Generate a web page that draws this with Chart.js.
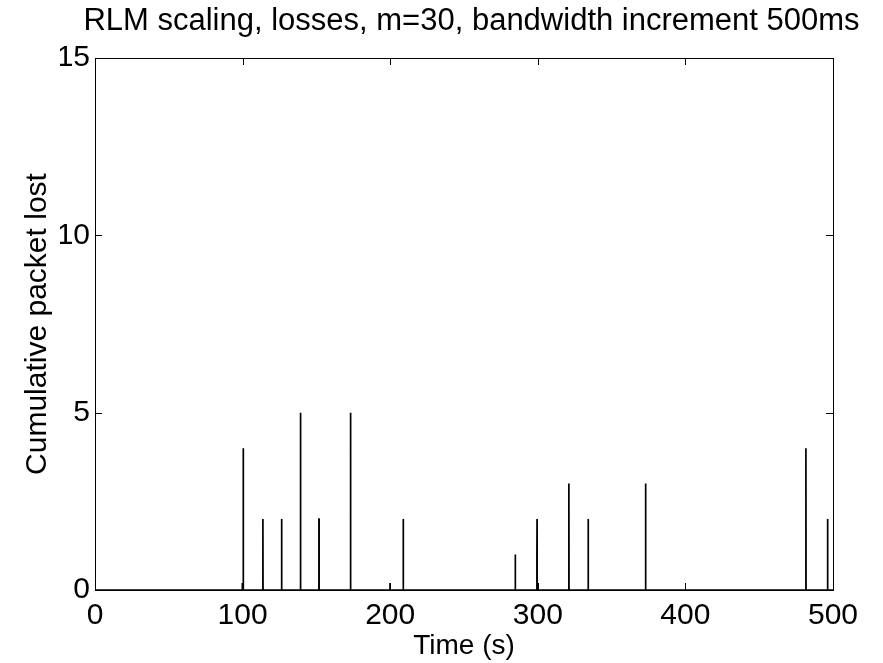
<!DOCTYPE html>
<html>
<head>
<meta charset="utf-8">
<script src="https://cdn.jsdelivr.net/npm/chart.js@4.4.0/dist/chart.umd.min.js"></script>
<style>
    html, body { margin: 0; padding: 0; background: #fff; }
</style>
</head>
<body>
<canvas id="chartLoss" width="883" height="663"></canvas>
<script>
// ================================
//  data
// ================================
const xTicks = [0, 100, 200, 300, 400, 500];
const yTicks = [0, 5, 10, 15];

// loss bursts: time (s), top of the burst, intermediate count on the way up
const burstTime = [100.5, 113.8, 126.5, 139.3, 151.8, 173.2, 208.9, 284.8, 299.5, 321.1, 334.2, 373.1, 481.7, 496.4];
const burstPeak = [4, 2, 2, 5, 2, 5, 2, 1, 2, 3, 2, 3, 4, 2];
const burstStep = [2, 1, 1, 1, 2, 2, 1, 1, 1, 3, 2, 1, 1, 1];

// tiny blips just before some bursts
const blipTime = [99.8, 199.9];
const blipValue = [0.2, 0.2];

// build the polyline (time order)
const events = [];
burstTime.forEach((t, i) => {
    events.push([t - 0.15, 0], [t - 0.1, burstStep[i]], [t, burstPeak[i]], [t + 0.05, 0]);
});
blipTime.forEach((t, i) => {
    events.push([t - 0.05, 0], [t, blipValue[i]], [t + 0.05, 0]);
});
events.push([0, 0], [500, 0]);
events.sort((a, b) => a[0] - b[0]);
const points = events.map(e => ({ x: e[0], y: e[1] }));

// ================================
//  frame + inward ticks (matlab look)
// ================================
const frameTicks = {
    id: 'frameTicks',
    afterDatasetsDraw(chart) {
        const { ctx, chartArea: a, scales: { x, y } } = chart;
        ctx.save();
        ctx.strokeStyle = '#000';
        ctx.lineWidth = 1;
        ctx.strokeRect(Math.round(a.left) + 0.5, Math.round(a.top) + 0.5,
            Math.round(a.right - a.left), Math.round(a.bottom - a.top));
        ctx.beginPath();
        xTicks.forEach(v => {
            const px = Math.round(x.getPixelForValue(v)) + 0.5;
            ctx.moveTo(px, a.bottom); ctx.lineTo(px, a.bottom - 7);
            ctx.moveTo(px, a.top); ctx.lineTo(px, a.top + 7);
        });
        yTicks.forEach(v => {
            const py = Math.round(y.getPixelForValue(v)) + 0.5;
            ctx.moveTo(a.left, py); ctx.lineTo(a.left + 7, py);
            ctx.moveTo(a.right, py); ctx.lineTo(a.right - 7, py);
        });
        ctx.stroke();
        ctx.restore();
    }
};

Chart.defaults.font.family = '"Liberation Sans", Arial, sans-serif';
Chart.defaults.color = '#000';

new Chart(document.getElementById('chartLoss').getContext('2d'), {
    type: 'line',
    data: {
        datasets: [{
            data: points,
            borderColor: '#000',
            borderWidth: 1.7,
            pointRadius: 0,
            tension: 0,
            fill: false
        }]
    },
    options: {
        responsive: false,
        animation: false,
        layout: { padding: { left: 60, right: 0, top: 0, bottom: 0 } },
        plugins: {
            legend: { display: false },
            tooltip: { enabled: false },
            title: {
                display: true,
                text: 'RLM scaling, losses, m=30, bandwidth increment 500ms',
                color: '#000',
                font: { size: 31, weight: 'normal' },
                padding: { top: 2.4, bottom: 18.4 }
            }
        },
        scales: {
            x: {
                type: 'linear',
                min: 0,
                max: 500,
                afterBuildTicks: s => { s.ticks = xTicks.map(v => ({ value: v })); },
                afterFit: s => { s.height = 73; s.paddingLeft = 0; s.paddingRight = 50; },
                grid: { display: false, drawTicks: false },
                border: { display: false },
                ticks: { font: { size: 30 }, padding: 8, maxRotation: 0 },
                title: {
                    display: true,
                    text: 'Time (s)',
                    font: { size: 28 },
                    padding: { top: 0, bottom: 0 }
                }
            },
            y: {
                min: 0,
                max: 15,
                afterBuildTicks: s => { s.ticks = yTicks.map(v => ({ value: v })); },
                afterFit: s => { s.width = 35; },
                grid: { display: false, drawTicks: false },
                border: { display: false },
                ticks: { font: { size: 30 }, padding: 5 },
                title: {
                    display: true,
                    text: 'Cumulative packet lost',
                    font: { size: 30 },
                    padding: { top: -40, bottom: 0 }
                }
            }
        }
    },
    plugins: [frameTicks]
});
</script>
</body>
</html>
